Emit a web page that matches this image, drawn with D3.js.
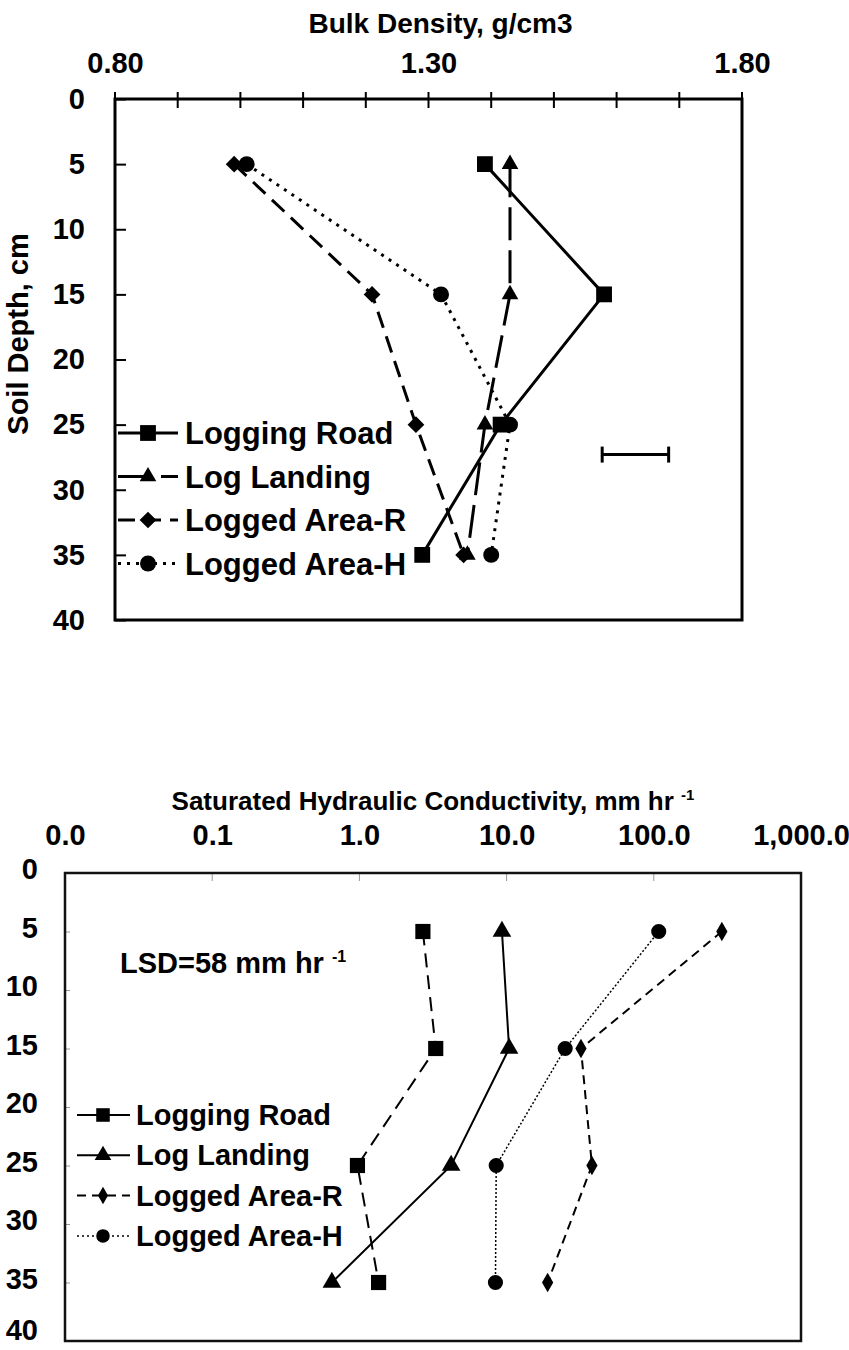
<!DOCTYPE html>
<html>
<head>
<meta charset="utf-8">
<script src="https://cdn.jsdelivr.net/npm/d3@7/dist/d3.min.js"></script>
<style>
  body { margin: 0; background: #fff; }
  svg { display: block; font-family: "Liberation Sans", Arial, sans-serif; font-weight: bold; }
</style>
</head>
<body>
<script>
// Data
var depths = [5, 15, 25, 35];

// Bulk density, g/cm3
var bdRoad = [1.39, 1.58, 1.415, 1.29],
    bdLanding = [1.43, 1.43, 1.39, 1.362],
    bdAreaR = [0.99, 1.21, 1.28, 1.356],
    bdAreaH = [1.01, 1.32, 1.43, 1.40];
var bdTicks = [0.8, 0.9, 1.0, 1.1, 1.2, 1.3, 1.4, 1.5, 1.6, 1.7, 1.8],
    bdLabels = [0.8, 1.3, 1.8];
// LSD bar for bulk density
var bdLsd = { from: 1.577, to: 1.683, depth: 27.3 };

// Saturated hydraulic conductivity, mm/hr
var ksRoad = [2.7, 3.3, 0.97, 1.35],
    ksLanding = [9.3, 10.4, 4.2, 0.65],
    ksAreaR = [290, 32, 38, 19],
    ksAreaH = [108, 25, 8.5, 8.4];
var ksTicks = [0.01, 0.1, 1, 10, 100, 1000];

var depthTicks = [0, 5, 10, 15, 20, 25, 30, 35, 40];
var seriesNames = ['Logging Road', 'Log Landing', 'Logged Area-R', 'Logged Area-H'];

var W = 849, H = 1350;
var svg = d3.select('body').append('svg').attr('width', W).attr('height', H);

function pairs(values) {
    return depths.map(function(d, i){ return { depth: d, v: values[i] }; });
}

// symbol path, diamond drawn as rotated square for upper chart
function marker(g, type, size, x, y) {
    var sym = { square: d3.symbolSquare, triangle: d3.symbolTriangle, circle: d3.symbolCircle,
                diamond: d3.symbolSquare, tallDiamond: d3.symbolDiamond }[type];
    var rot = type === 'diamond' ? ' rotate(45)' : '';
    g.append('path')
        .attr('d', d3.symbol().type(sym).size(size)())
        .attr('transform', 'translate(' + x + ',' + y + ')' + rot)
        .attr('fill', '#000');
}

/* ---------- Upper chart: bulk density ---------- */
var t = { left: 115, right: 742, top: 99, bottom: 620 };
var xBD = d3.scaleLinear().domain([0.8, 1.8]).range([t.left, t.right]);
var yTop = d3.scaleLinear().domain([0, 40]).range([t.top, t.bottom]);

var g1 = svg.append('g');

g1.append('text').attr('x', (t.left + t.right) / 2 + 12).attr('y', 33)
    .attr('text-anchor', 'middle').style('font-size', '28px').text('Bulk Density, g/cm3');

var xAx1 = g1.append('g').attr('transform', 'translate(0,' + t.top + ')')
    .call(d3.axisTop(xBD).tickValues(bdLabels).tickFormat(d3.format('.2f')).tickSize(0).tickPadding(26));
var yAx1 = g1.append('g').attr('transform', 'translate(' + t.left + ',0)')
    .call(d3.axisLeft(yTop).tickValues(depthTicks).tickSize(-11).tickPadding(30));
[xAx1, yAx1].forEach(function(a){
    a.select('.domain').remove();
    a.selectAll('text').attr('fill', '#000').style('font-size', '29px').style('font-family', 'inherit').style('font-weight', 'bold');
    a.selectAll('line').attr('stroke', '#000').attr('stroke-width', 2);
});

// crossing ticks along the top
g1.selectAll('.bdtick').data(bdTicks).enter().append('line')
    .attr('x1', function(d){ return xBD(d); }).attr('x2', function(d){ return xBD(d); })
    .attr('y1', t.top - 7).attr('y2', t.top + 9)
    .attr('stroke', '#000').attr('stroke-width', 2);

g1.append('text').attr('transform', 'translate(28,' + 334 + ') rotate(-90)')
    .attr('text-anchor', 'middle').style('font-size', '29px').text('Soil Depth, cm');

var bdSeries = [
    { vals: bdRoad, sym: 'square', size: 250, dash: null },
    { vals: bdLanding, sym: 'triangle', size: 120, dash: '33,10' },
    { vals: bdAreaR, sym: 'diamond', size: 140, dash: '17,9' },
    { vals: bdAreaH, sym: 'circle', size: 200, dash: '3,6' }
];

var line1 = d3.line().x(function(d){ return xBD(d.v); }).y(function(d){ return yTop(d.depth); });

bdSeries.forEach(function(s){
    g1.append('path').datum(pairs(s.vals)).attr('d', line1)
        .attr('fill', 'none').attr('stroke', '#000').attr('stroke-width', 3)
        .attr('stroke-dasharray', s.dash);
    pairs(s.vals).forEach(function(p){ marker(g1, s.sym, s.size, xBD(p.v), yTop(p.depth)); });
});

// LSD bar
var yl = yTop(bdLsd.depth);
g1.append('line').attr('x1', xBD(bdLsd.from)).attr('x2', xBD(bdLsd.to)).attr('y1', yl).attr('y2', yl)
    .attr('stroke', '#000').attr('stroke-width', 3);
[bdLsd.from, bdLsd.to].forEach(function(v){
    g1.append('line').attr('x1', xBD(v)).attr('x2', xBD(v)).attr('y1', yl - 8).attr('y2', yl + 8)
        .attr('stroke', '#000').attr('stroke-width', 3);
});

// legend
bdSeries.forEach(function(s, i){
    var y = 433 + i * 43.5;
    g1.append('line').attr('x1', 118).attr('x2', 178).attr('y1', y).attr('y2', y)
        .attr('stroke', '#000').attr('stroke-width', 3).attr('stroke-dasharray', s.dash);
    marker(g1, s.sym, s.size, 148, y);
    g1.append('text').attr('x', 185).attr('y', y + 11).style('font-size', '31px').text(seriesNames[i]);
});

g1.append('rect').attr('x', t.left).attr('y', t.top).attr('width', t.right - t.left).attr('height', t.bottom - t.top)
    .attr('fill', 'none').attr('stroke', '#000').attr('stroke-width', 3);

/* ---------- Lower chart: hydraulic conductivity ---------- */
var b = { left: 65, right: 801, top: 873, bottom: 1341 };
var xKs = d3.scaleLog().domain([0.01, 1000]).range([b.left, b.right]);
var yBot = d3.scaleLinear().domain([0, 40]).range([b.top, b.bottom]);

var g2 = svg.append('g');

var title2 = g2.append('text').attr('x', (b.left + b.right) / 2).attr('y', 810)
    .attr('text-anchor', 'middle').style('font-size', '26px');
title2.append('tspan').text('Saturated Hydraulic Conductivity, mm hr ');
title2.append('tspan').attr('dy', -10).style('font-size', '15px').text('-1');

var xAx2 = g2.append('g').attr('transform', 'translate(0,' + b.top + ')')
    .call(d3.axisTop(xKs).tickValues(ksTicks).tickFormat(d3.format(',.1f')).tickSize(0).tickPadding(28));
var yAx2 = g2.append('g').attr('transform', 'translate(' + b.left + ',0)')
    .call(d3.axisLeft(yBot).tickValues(depthTicks).tickSize(-5).tickPadding(27));
[xAx2, yAx2].forEach(function(a){
    a.select('.domain').remove();
    a.selectAll('text').attr('fill', '#000').style('font-size', '29px').style('font-family', 'inherit').style('font-weight', 'bold');
    a.selectAll('line').attr('stroke', '#999').attr('stroke-width', 1);
});
// last label sits on the page edge, lift it a little
yAx2.selectAll('text').attr('dy', function(d){ return d === 40 ? '-0.05em' : '0.2em'; });

g2.selectAll('.kstick').data(ksTicks).enter().append('line')
    .attr('x1', function(d){ return xKs(d); }).attr('x2', function(d){ return xKs(d); })
    .attr('y1', b.top).attr('y2', b.top + 8)
    .attr('stroke', '#999').attr('stroke-width', 1);

var lsd = g2.append('text').attr('x', 120).attr('y', 973).style('font-size', '29px');
lsd.append('tspan').text('LSD=58 mm hr ');
lsd.append('tspan').attr('dy', -11).style('font-size', '16px').text('-1');

var ksSeries = [
    { vals: ksRoad, sym: 'square', size: 230, dash: '14,8', legDash: null },
    { vals: ksLanding, sym: 'triangle', size: 150, dash: null, legDash: null },
    { vals: ksAreaR, sym: 'tallDiamond', size: 110, dash: '9,6', legDash: '9,6' },
    { vals: ksAreaH, sym: 'circle', size: 180, dash: '2,2', legDash: '2,3' }
];

var line2 = d3.line().x(function(d){ return xKs(d.v); }).y(function(d){ return yBot(d.depth); });

ksSeries.forEach(function(s){
    g2.append('path').datum(pairs(s.vals)).attr('d', line2)
        .attr('fill', 'none').attr('stroke', '#000').attr('stroke-width', s.sym === 'circle' ? 1.5 : 2)
        .attr('stroke-dasharray', s.dash);
    pairs(s.vals).forEach(function(p){ marker(g2, s.sym, s.size, xKs(p.v), yBot(p.depth)); });
});

ksSeries.forEach(function(s, i){
    var y = 1115 + i * 40.3;
    g2.append('line').attr('x1', 77).attr('x2', 130).attr('y1', y).attr('y2', y)
        .attr('stroke', '#000').attr('stroke-width', s.sym === 'circle' ? 1.5 : 2).attr('stroke-dasharray', s.legDash);
    marker(g2, s.sym, s.size * 0.8, 103, y);
    g2.append('text').attr('x', 136).attr('y', y + 10).style('font-size', '29px').text(seriesNames[i]);
});

g2.append('rect').attr('x', b.left).attr('y', b.top).attr('width', b.right - b.left).attr('height', b.bottom - b.top)
    .attr('fill', 'none').attr('stroke', '#111').attr('stroke-width', 2.5);
</script>
</body>
</html>
